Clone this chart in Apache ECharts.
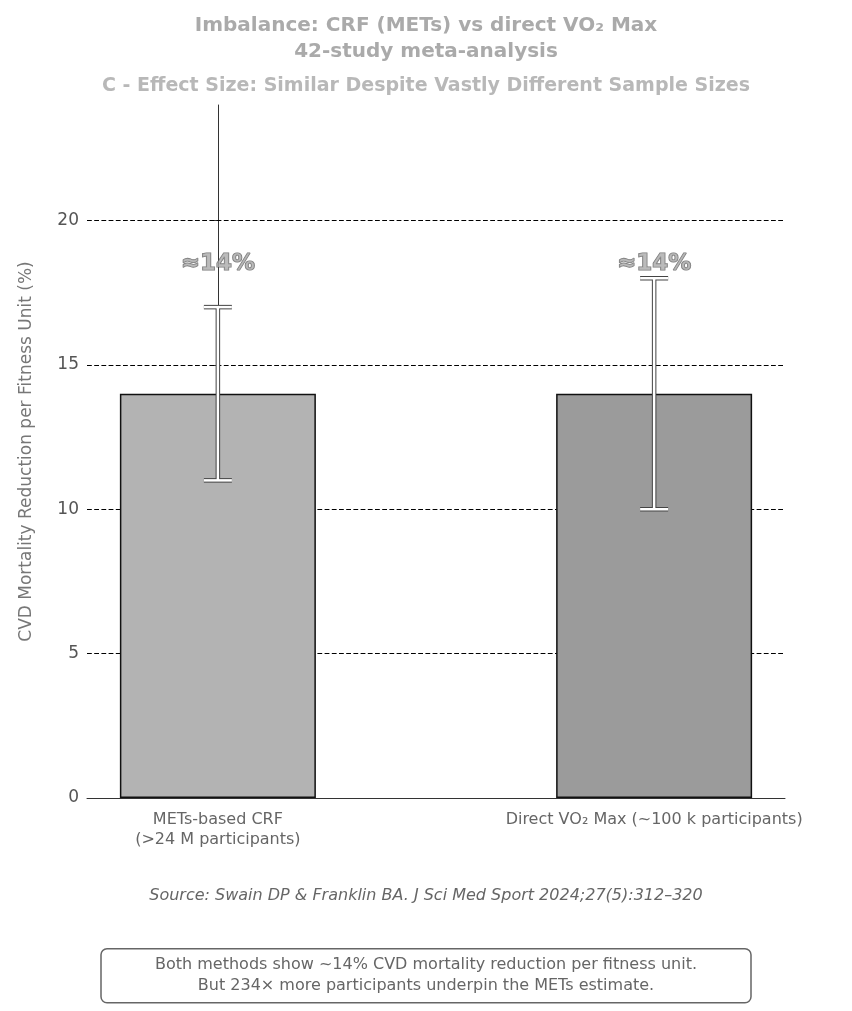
<!DOCTYPE html><html><head><meta charset="utf-8">
<script src="https://cdn.jsdelivr.net/npm/echarts@6/dist/echarts.min.js"></script>
<style>body{margin:0}#c{width:852px;height:1011px}</style></head><body><div id="c"></div>
<script>
const categories=['METs-based CRF\n(>24 M participants)','Direct VO₂ Max (~100 k participants)'];
const values=[14,14];
const lower=[11,10];
const upper=[17,18];
const barColors=['#b3b3b3','#9b9b9b'];
const annot=['≈14%','≈14%'];
const gridLines=[5,10,15,20];
const ch=echarts.init(document.getElementById('c'));
const F='DejaVu Sans';
ch.setOption({
 animation:false,
 title:[{text:'Imbalance: CRF (METs) vs direct VO₂ Max\n42-study meta-analysis',left:'center',top:8,textStyle:{fontFamily:F,fontSize:20,fontWeight:'bold',color:'#aaaaaa',lineHeight:26}},
 {text:'C - Effect Size: Similar Despite Vastly Different Sample Sizes',left:'center',top:72,textStyle:{fontFamily:F,fontSize:19,fontWeight:'bold',color:'#b8b8b8'}}],
 grid:{left:87,right:67,top:105,bottom:213},
 xAxis:{type:'value',min:-0.3,max:1.3,splitLine:{show:false},axisTick:{show:false},axisLine:{lineStyle:{color:'#333'}},
  axisLabel:{customValues:[0,1],formatter:v=>categories[Math.round(v)],fontFamily:F,fontSize:16,color:'#666',lineHeight:20,margin:12,hideOverlap:false}},
 yAxis:{type:'value',min:0,max:24,interval:5,splitLine:{show:false},
  axisLine:{show:true,lineStyle:{color:'#333'}},axisTick:{show:true,length:5,lineStyle:{color:'#333'},customValues:[0,5,10,15,20]},
  axisLabel:{fontFamily:F,fontSize:17,color:'#555',customValues:[0,5,10,15,20]},
  name:'CVD Mortality Reduction per Fitness Unit (%)',nameLocation:'middle',nameGap:52,
  nameTextStyle:{fontFamily:F,fontSize:17,color:'#777'}},
 graphic:[{type:'text',left:'center',top:888,style:{text:'Source: Swain DP & Franklin BA. J Sci Med Sport 2024;27(5):312–320',font:'italic 16px DejaVu Sans',fill:'#666'}},
  {type:'group',left:'center',top:948,children:[
   {type:'rect',shape:{x:0,y:0,width:650,height:54,r:6},style:{fill:'#fff',stroke:'#666',lineWidth:1.5}},
   {type:'text',style:{x:325,y:27,text:'Both methods show ~14% CVD mortality reduction per fitness unit.\nBut 234× more participants underpin the METs estimate.',font:'16px DejaVu Sans',fill:'#666',align:'center',verticalAlign:'middle',lineHeight:21}}]}],
 series:[
  {type:'bar',data:values.map((v,i)=>({value:[i,v],itemStyle:{color:barColors[i]}})),barWidth:196,
   itemStyle:{borderColor:'#111',borderWidth:1.5},z:2,
   markLine:{silent:true,symbol:'none',label:{show:false},lineStyle:{type:'dashed',color:'#000',width:1.2},data:gridLines.map(y=>({yAxis:y})),z:1}},
  {type:'custom',z:5,data:values.map((v,i)=>[i,lower[i],upper[i]]),
   renderItem:(p,api)=>{const lo=api.coord([api.value(0),api.value(1)]);const hi=api.coord([api.value(0),api.value(2)]);const s={stroke:'#fff',lineWidth:2.5};const s2={stroke:'#444',lineWidth:4.5};
    const mk=(st)=>[{type:'line',shape:{x1:lo[0],y1:lo[1],x2:hi[0],y2:hi[1]},style:st},{type:'line',shape:{x1:lo[0]-14,y1:lo[1],x2:lo[0]+14,y2:lo[1]},style:st},{type:'line',shape:{x1:hi[0]-14,y1:hi[1],x2:hi[0]+14,y2:hi[1]},style:st}];
    return {type:'group',children:mk(s2).concat(mk(s))};}},
  {type:'scatter',symbolSize:0,data:[[0,18.5],[1,18.5]],
   label:{show:true,position:'inside',formatter:p=>annot[p.dataIndex],fontFamily:F,fontSize:23,fontWeight:'bold',color:'#aaa',textBorderColor:'#555',textBorderWidth:1.2}}
 ]});
</script></body></html>
